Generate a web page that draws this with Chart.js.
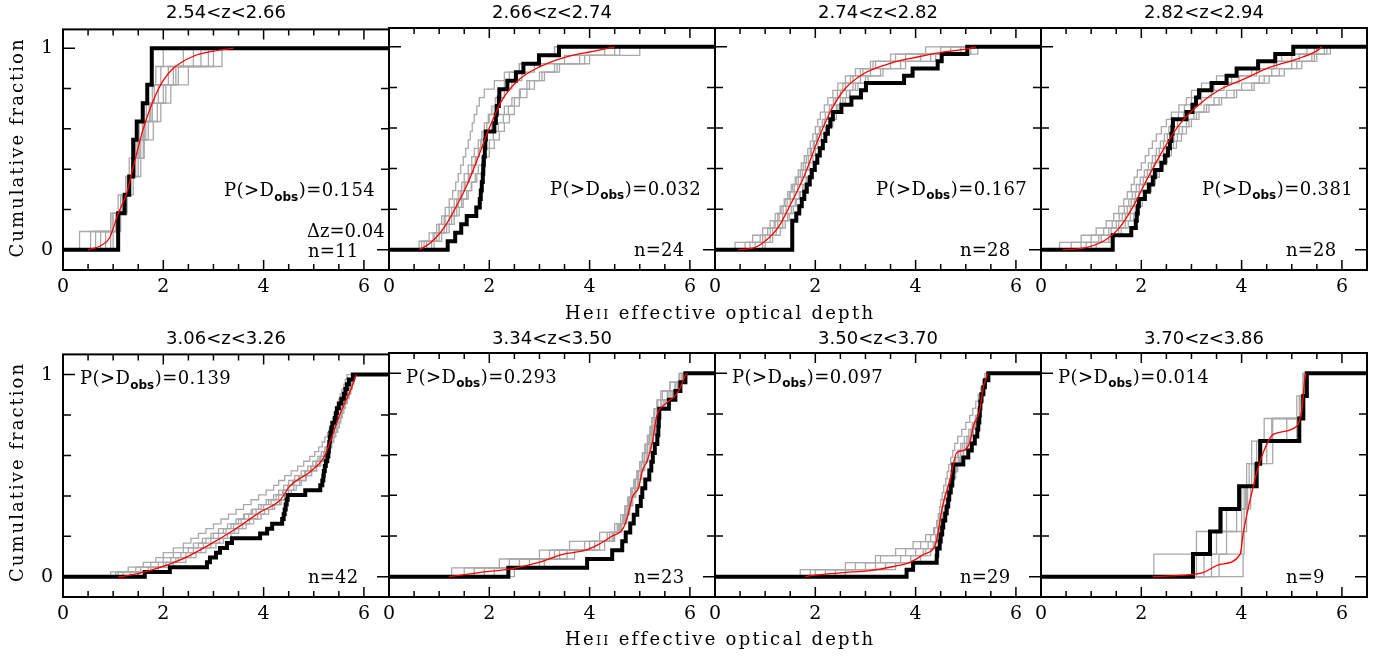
<!DOCTYPE html>
<html>
<head>
<meta charset="utf-8">
<script src="https://cdn.jsdelivr.net/npm/chart.js@4.4.1/dist/chart.umd.min.js"></script>
<style>
  html, body { margin: 0; padding: 0; background: #fff; }
  #page { position: relative; width: 1392px; height: 656px; overflow: hidden; background: #fff; }
  #page canvas { position: absolute; }
</style>
</head>
<body>
<div id="page"><canvas id="overlay" width="1392" height="656" style="left:0;top:0"></canvas></div>
<script>
// redshift bins, KS probabilities, ticks
const zTitles = ['2.54<z<2.66', '2.66<z<2.74', '2.74<z<2.82', '2.82<z<2.94',
                 '3.06<z<3.26', '3.34<z<3.50', '3.50<z<3.70', '3.70<z<3.86'];
const pValues = ['0.154', '0.032', '0.167', '0.381', '0.139', '0.293', '0.097', '0.014'];
const dzLabel = 'Δz=0.04';
const xTickValues = [0, 2, 4, 6];
const yTickValues = [0, 1];
const yMinorValues = [0.2, 0.4, 0.6, 0.8];

// observed HeII effective optical depths (black)
const obs1 = [1.10, 1.10, 1.23, 1.32, 1.40, 1.40, 1.47, 1.59, 1.68, 1.77, 1.77];
const obs2 = [1.17, 1.32, 1.44, 1.55, 1.74, 1.81, 1.83, 1.85, 1.87, 1.88, 1.89, 1.91, 1.92, 1.93,
              2.10, 2.13, 2.15, 2.19, 2.20, 2.36, 2.53, 2.68, 2.99, 3.39];
const obs3 = [1.54, 1.54, 1.54, 1.54, 1.62, 1.68, 1.73, 1.78, 1.83, 1.89, 1.93, 1.99, 2.04, 2.09,
              2.15, 2.20, 2.25, 2.30, 2.35, 2.52, 2.72, 2.91, 3.01, 3.77, 3.94, 4.44, 4.52, 5.03];
const obs4 = [1.43, 1.43, 1.80, 1.89, 1.91, 1.93, 1.95, 2.07, 2.15, 2.23, 2.27, 2.40, 2.47, 2.53,
              2.57, 2.60, 2.62, 2.63, 2.90, 3.02, 3.09, 3.15, 3.40, 3.70, 3.90, 4.33, 4.67, 5.03];
const obs5 = [1.63, 2.13, 2.87, 2.93, 3.05, 3.13, 3.27, 3.37, 3.93, 4.07, 4.17, 4.37, 4.40, 4.42,
              4.44, 4.46, 4.48, 4.83, 5.13, 5.17, 5.19, 5.20, 5.22, 5.24, 5.27, 5.29, 5.30, 5.31,
              5.32, 5.33, 5.35, 5.37, 5.42, 5.44, 5.46, 5.50, 5.55, 5.60, 5.63, 5.66, 5.70, 5.78];
const obs6 = [2.38, 3.95, 4.45, 4.65, 4.72, 4.81, 4.88, 4.95, 5.02, 5.05, 5.11, 5.19, 5.23, 5.26,
              5.30, 5.35, 5.37, 5.38, 5.39, 5.58, 5.71, 5.81, 5.91];
const obs7 = [3.82, 3.95, 4.42, 4.43, 4.48, 4.50, 4.53, 4.55, 4.59, 4.62, 4.65, 4.67, 4.70, 4.73,
              4.74, 4.75, 4.95, 5.05, 5.12, 5.18, 5.23, 5.25, 5.27, 5.28, 5.29, 5.31, 5.35, 5.38, 5.45];
const obs8 = [3.03, 3.37, 3.58, 3.95, 4.30, 4.37, 5.15, 5.23, 5.30];

// model cumulative distributions (red)
const model1x = [0.50, 0.57, 0.75, 0.93, 1.10, 1.27, 1.40, 1.60, 1.80, 2.00, 2.20, 2.60, 3.00, 3.40];
const model1y = [0, 0.005, 0.02, 0.06, 0.18, 0.28, 0.41, 0.60, 0.74, 0.84, 0.90, 0.96, 0.985, 1];
const model2x = [0.60, 0.75, 0.94, 1.10, 1.27, 1.54, 1.80, 2.00, 2.26, 2.60, 2.99, 3.52, 4.12, 4.50];
const model2y = [0, 0.02, 0.06, 0.11, 0.18, 0.31, 0.47, 0.60, 0.74, 0.84, 0.90, 0.95, 0.98, 1];
const model3x = [0.46, 0.79, 0.99, 1.26, 1.52, 1.79, 2.05, 2.32, 2.58, 2.98, 3.51, 4.04, 4.57, 5.03, 5.20];
const model3y = [0, 0.01, 0.04, 0.11, 0.23, 0.37, 0.54, 0.69, 0.79, 0.87, 0.92, 0.95, 0.975, 0.99, 1];
const model4x = [0.43, 0.90, 1.30, 1.57, 1.83, 2.10, 2.43, 2.77, 3.17, 3.57, 4.03, 4.57, 5.10, 5.50, 5.60];
const model4y = [0, 0.01, 0.05, 0.11, 0.21, 0.34, 0.49, 0.62, 0.72, 0.79, 0.84, 0.90, 0.94, 0.98, 1];
const model5x = [1.10, 1.20, 1.73, 2.40, 2.93, 3.40, 3.93, 4.33, 4.53, 4.93, 5.20, 5.33, 5.47, 5.60, 5.73, 5.83, 5.85];
const model5y = [0, 0.002, 0.03, 0.09, 0.16, 0.23, 0.32, 0.38, 0.45, 0.52, 0.59, 0.67, 0.77, 0.85, 0.92, 0.99, 1];
const model6x = [1.20, 1.80, 2.46, 2.99, 3.46, 3.92, 4.19, 4.45, 4.65, 4.75, 4.85, 4.98, 5.05, 5.15,
                 5.25, 5.34, 5.51, 5.71, 5.81, 5.91, 5.95];
const model6y = [0, 0.02, 0.04, 0.07, 0.11, 0.13, 0.16, 0.20, 0.23, 0.29, 0.39, 0.44, 0.52, 0.57,
                 0.66, 0.79, 0.85, 0.89, 0.93, 0.99, 1];
const model7x = [1.80, 1.91, 2.57, 3.10, 3.56, 3.89, 4.16, 4.36, 4.42, 4.49, 4.55, 4.69, 4.82, 4.95,
                 5.08, 5.15, 5.28, 5.35, 5.41, 5.43];
const model7y = [0, 0.005, 0.02, 0.03, 0.05, 0.07, 0.11, 0.14, 0.18, 0.28, 0.36, 0.48, 0.61, 0.62,
                 0.66, 0.74, 0.82, 0.93, 0.98, 1];
const model8x = [2.23, 2.97, 3.23, 3.57, 3.97, 4.03, 4.10, 4.20, 4.30, 4.43, 4.63, 5.10, 5.20, 5.27, 5.29];
const model8y = [0, 0.01, 0.02, 0.06, 0.11, 0.21, 0.30, 0.41, 0.51, 0.61, 0.70, 0.74, 0.82, 0.99, 1];

// mock samples drawn from the model (grey)
const sims1 = [
  [0.33, 0.95, 1.10, 1.25, 1.32, 1.45, 1.52, 1.60, 1.70, 1.95, 2.40],
  [0.65, 1.00, 1.15, 1.30, 1.42, 1.50, 1.62, 1.75, 1.90, 2.10, 3.17],
  [0.85, 1.08, 1.22, 1.35, 1.45, 1.55, 1.65, 1.78, 2.00, 2.25, 2.60],
  [0.95, 1.12, 1.25, 1.28, 1.38, 1.48, 1.58, 1.72, 1.82, 2.20, 2.90],
  [0.75, 0.98, 1.20, 1.33, 1.50, 1.62, 1.70, 1.88, 2.05, 2.30, 2.75],
  [1.00, 1.15, 1.28, 1.40, 1.55, 1.60, 1.80, 1.95, 2.15, 2.50, 3.00],
  [0.55, 1.05, 1.18, 1.30, 1.40, 1.52, 1.60, 1.66, 1.78, 1.85, 2.00]
];
const sims2 = [
  [0.60, 0.80, 0.95, 1.05, 1.12, 1.20, 1.27, 1.33, 1.38, 1.43, 1.48, 1.53, 1.58, 1.62, 1.66, 1.70, 1.75, 1.80, 1.90, 2.10, 2.30, 2.60, 3.00, 3.30],
  [0.70, 0.90, 1.00, 1.12, 1.25, 1.35, 1.42, 1.50, 1.58, 1.65, 1.72, 1.80, 1.85, 1.95, 2.05, 2.15, 2.30, 2.45, 2.60, 2.75, 3.00, 3.30, 3.90, 4.60],
  [0.85, 1.00, 1.15, 1.25, 1.35, 1.45, 1.55, 1.65, 1.75, 1.85, 1.92, 2.00, 2.10, 2.20, 2.30, 2.40, 2.50, 2.60, 2.75, 2.90, 3.10, 3.40, 4.00, 5.00],
  [0.65, 0.95, 1.10, 1.20, 1.30, 1.38, 1.45, 1.52, 1.60, 1.68, 1.74, 1.78, 1.83, 1.88, 1.95, 2.00, 2.10, 2.20, 2.30, 2.45, 2.65, 2.90, 3.50, 4.30],
  [0.90, 1.05, 1.20, 1.30, 1.40, 1.48, 1.58, 1.64, 1.72, 1.78, 1.85, 1.92, 2.00, 2.08, 2.18, 2.28, 2.38, 2.50, 2.62, 2.80, 3.05, 3.35, 3.80, 4.50],
  [0.75, 0.88, 1.00, 1.10, 1.20, 1.30, 1.38, 1.45, 1.50, 1.58, 1.65, 1.70, 1.78, 1.85, 1.90, 1.98, 2.05, 2.12, 2.20, 2.30, 2.40, 2.60, 3.00, 3.30]
];
const sims3 = [
  [0.40, 0.75, 0.95, 1.10, 1.20, 1.30, 1.38, 1.45, 1.52, 1.60, 1.66, 1.72, 1.78, 1.85, 1.90, 1.95, 2.00, 2.05, 2.10, 2.18, 2.25, 2.35, 2.45, 2.60, 2.80, 3.10, 3.60, 4.50],
  [0.80, 1.00, 1.15, 1.25, 1.35, 1.42, 1.50, 1.58, 1.65, 1.72, 1.80, 1.88, 1.95, 2.00, 2.05, 2.12, 2.20, 2.28, 2.35, 2.42, 2.50, 2.62, 2.75, 2.90, 3.10, 3.50, 4.10, 5.24],
  [0.95, 1.10, 1.22, 1.35, 1.45, 1.52, 1.60, 1.68, 1.75, 1.82, 1.90, 1.98, 2.05, 2.10, 2.15, 2.20, 2.28, 2.35, 2.42, 2.50, 2.60, 2.70, 2.85, 3.00, 3.30, 3.70, 4.30, 5.10],
  [0.60, 0.90, 1.05, 1.20, 1.28, 1.36, 1.44, 1.50, 1.58, 1.66, 1.74, 1.80, 1.86, 1.92, 1.98, 2.04, 2.10, 2.18, 2.26, 2.32, 2.40, 2.50, 2.60, 2.75, 2.95, 3.20, 3.80, 4.70],
  [1.00, 1.15, 1.30, 1.40, 1.48, 1.56, 1.62, 1.70, 1.78, 1.84, 1.90, 1.96, 2.02, 2.08, 2.14, 2.20, 2.25, 2.30, 2.38, 2.45, 2.55, 2.68, 2.80, 3.05, 3.35, 3.80, 4.40, 4.90],
  [0.70, 0.95, 1.10, 1.18, 1.25, 1.32, 1.40, 1.48, 1.55, 1.62, 1.70, 1.76, 1.82, 1.90, 1.96, 2.02, 2.08, 2.14, 2.20, 2.28, 2.36, 2.44, 2.55, 2.70, 2.90, 3.15, 3.50, 4.20]
];
const sims4 = [
  [0.37, 0.80, 1.10, 1.30, 1.45, 1.55, 1.65, 1.72, 1.80, 1.86, 1.92, 2.00, 2.08, 2.15, 2.22, 2.30, 2.40, 2.50, 2.60, 2.75, 2.90, 3.00, 3.20, 3.50, 3.90, 4.30, 4.80, 5.30],
  [0.80, 1.20, 1.40, 1.55, 1.68, 1.78, 1.86, 1.95, 2.02, 2.10, 2.18, 2.25, 2.35, 2.45, 2.55, 2.65, 2.75, 2.90, 3.05, 3.25, 3.45, 3.70, 4.00, 4.35, 4.60, 5.00, 5.40, 5.77],
  [1.00, 1.35, 1.55, 1.68, 1.78, 1.88, 1.98, 2.08, 2.16, 2.24, 2.32, 2.40, 2.48, 2.56, 2.64, 2.72, 2.82, 2.95, 3.10, 3.30, 3.55, 3.85, 4.20, 4.45, 4.75, 5.10, 5.45, 5.65],
  [0.60, 1.00, 1.25, 1.42, 1.56, 1.66, 1.75, 1.82, 1.90, 1.98, 2.06, 2.14, 2.22, 2.30, 2.38, 2.46, 2.55, 2.64, 2.74, 2.86, 3.00, 3.20, 3.45, 3.80, 4.20, 4.70, 5.15, 5.50],
  [1.10, 1.40, 1.60, 1.74, 1.85, 1.94, 2.02, 2.10, 2.20, 2.28, 2.36, 2.44, 2.52, 2.60, 2.70, 2.80, 2.90, 3.00, 3.15, 3.35, 3.60, 3.90, 4.25, 4.55, 4.85, 5.20, 5.50, 5.70],
  [0.90, 1.15, 1.35, 1.50, 1.62, 1.72, 1.80, 1.88, 1.96, 2.04, 2.12, 2.20, 2.28, 2.36, 2.44, 2.52, 2.62, 2.72, 2.84, 3.00, 3.20, 3.40, 3.65, 3.95, 4.30, 4.65, 5.00, 5.45]
];
const sims5 = [
  [0.95, 1.30, 1.60, 1.85, 2.00, 2.20, 2.40, 2.55, 2.70, 2.85, 3.00, 3.15, 3.30, 3.45, 3.60, 3.75, 3.90, 4.05, 4.20, 4.30, 4.42,
   4.55, 4.68, 4.80, 4.92, 5.02, 5.10, 5.17, 5.22, 5.27, 5.31, 5.35, 5.38, 5.41, 5.44, 5.47, 5.50, 5.53, 5.56, 5.60, 5.63, 5.66],
  [1.20, 1.55, 1.90, 2.15, 2.35, 2.50, 2.70, 2.85, 3.00, 3.20, 3.35, 3.50, 3.62, 3.75, 3.90, 4.05, 4.20, 4.30, 4.40, 4.50, 4.62,
   4.75, 4.88, 4.98, 5.08, 5.15, 5.22, 5.28, 5.32, 5.36, 5.40, 5.43, 5.46, 5.50, 5.54, 5.58, 5.62, 5.66, 5.70, 5.73, 5.76, 5.80],
  [1.50, 1.90, 2.20, 2.45, 2.65, 2.85, 3.05, 3.20, 3.35, 3.50, 3.65, 3.80, 3.95, 4.10, 4.22, 4.35, 4.45, 4.55, 4.65, 4.75, 4.85,
   4.95, 5.05, 5.12, 5.20, 5.25, 5.30, 5.34, 5.38, 5.42, 5.45, 5.48, 5.52, 5.55, 5.58, 5.62, 5.66, 5.70, 5.74, 5.77, 5.80, 5.83],
  [1.10, 1.70, 2.00, 2.25, 2.45, 2.60, 2.80, 2.95, 3.10, 3.25, 3.40, 3.55, 3.70, 3.85, 4.00, 4.15, 4.30, 4.40, 4.48, 4.58, 4.70,
   4.82, 4.94, 5.04, 5.12, 5.20, 5.26, 5.30, 5.34, 5.38, 5.42, 5.46, 5.49, 5.52, 5.55, 5.59, 5.63, 5.67, 5.71, 5.75, 5.78, 5.81],
  [1.35, 1.75, 2.05, 2.30, 2.55, 2.75, 2.95, 3.12, 3.28, 3.42, 3.58, 3.72, 3.88, 4.02, 4.18, 4.32, 4.42, 4.50, 4.60, 4.72, 4.84,
   4.96, 5.06, 5.14, 5.21, 5.27, 5.32, 5.36, 5.40, 5.44, 5.48, 5.51, 5.54, 5.57, 5.60, 5.63, 5.67, 5.70, 5.73, 5.76, 5.79, 5.82],
  [1.05, 1.45, 1.75, 2.00, 2.20, 2.40, 2.60, 2.78, 2.95, 3.10, 3.28, 3.45, 3.60, 3.78, 3.95, 4.10, 4.25, 4.38, 4.48, 4.60, 4.72,
   4.84, 4.96, 5.06, 5.14, 5.20, 5.25, 5.30, 5.34, 5.38, 5.41, 5.44, 5.47, 5.50, 5.53, 5.56, 5.60, 5.64, 5.68, 5.72, 5.75, 5.78]
];
const sims6 = [
  [1.25, 2.20, 3.00, 3.60, 4.20, 4.50, 4.62, 4.70, 4.76, 4.82, 4.88, 4.94, 5.00, 5.06, 5.12, 5.18, 5.22, 5.26, 5.30, 5.36, 5.45, 5.60, 5.80],
  [1.70, 2.60, 3.20, 4.00, 4.35, 4.55, 4.68, 4.75, 4.80, 4.86, 4.92, 4.98, 5.04, 5.10, 5.16, 5.20, 5.25, 5.30, 5.35, 5.42, 5.55, 5.70, 5.85],
  [2.10, 3.10, 3.70, 4.30, 4.50, 4.62, 4.72, 4.78, 4.84, 4.90, 4.96, 5.02, 5.08, 5.14, 5.20, 5.24, 5.28, 5.33, 5.40, 5.50, 5.65, 5.75, 5.90],
  [1.50, 2.40, 3.30, 3.90, 4.40, 4.60, 4.70, 4.76, 4.80, 4.85, 4.90, 4.95, 5.00, 5.05, 5.10, 5.15, 5.20, 5.24, 5.28, 5.34, 5.42, 5.60, 5.78],
  [2.50, 3.00, 3.55, 4.10, 4.45, 4.64, 4.74, 4.80, 4.86, 4.92, 4.98, 5.04, 5.10, 5.16, 5.22, 5.27, 5.31, 5.35, 5.40, 5.48, 5.62, 5.78, 5.88],
  [1.90, 2.80, 3.40, 4.20, 4.48, 4.58, 4.66, 4.72, 4.78, 4.84, 4.90, 4.97, 5.03, 5.09, 5.15, 5.20, 5.24, 5.29, 5.34, 5.44, 5.58, 5.72, 5.84]
];
const sims7 = [
  [1.70, 2.60, 3.30, 3.80, 4.10, 4.30, 4.38, 4.42, 4.45, 4.48, 4.50, 4.53, 4.56, 4.60, 4.63, 4.66, 4.70, 4.74, 4.78, 4.84, 4.92, 5.00, 5.08, 5.14, 5.20, 5.25, 5.30, 5.34, 5.38],
  [2.00, 3.00, 3.70, 4.00, 4.25, 4.40, 4.44, 4.47, 4.50, 4.53, 4.56, 4.60, 4.64, 4.68, 4.72, 4.76, 4.80, 4.86, 4.94, 5.02, 5.10, 5.16, 5.22, 5.26, 5.30, 5.33, 5.36, 5.38, 5.42],
  [2.40, 3.40, 3.90, 4.15, 4.35, 4.42, 4.46, 4.50, 4.54, 4.58, 4.62, 4.66, 4.70, 4.74, 4.78, 4.82, 4.88, 4.95, 5.02, 5.08, 5.14, 5.20, 5.24, 5.28, 5.31, 5.34, 5.36, 5.39, 5.43],
  [2.60, 3.60, 4.10, 4.30, 4.40, 4.45, 4.48, 4.51, 4.55, 4.58, 4.61, 4.65, 4.69, 4.72, 4.75, 4.80, 4.85, 4.90, 4.98, 5.05, 5.12, 5.18, 5.23, 5.27, 5.30, 5.33, 5.36, 5.40, 5.44],
  [1.90, 2.80, 3.20, 3.60, 3.95, 4.20, 4.36, 4.43, 4.48, 4.52, 4.55, 4.59, 4.63, 4.67, 4.71, 4.75, 4.79, 4.84, 4.90, 4.97, 5.06, 5.13, 5.19, 5.24, 5.28, 5.32, 5.35, 5.38, 5.41],
  [2.20, 3.20, 3.90, 4.20, 4.38, 4.44, 4.48, 4.52, 4.56, 4.60, 4.64, 4.68, 4.72, 4.76, 4.80, 4.84, 4.90, 4.96, 5.03, 5.10, 5.15, 5.20, 5.25, 5.29, 5.32, 5.35, 5.38, 5.41, 5.44]
];
const sims8 = [
  [2.25, 3.10, 3.55, 4.00, 4.10, 4.20, 4.45, 5.10, 5.22],
  [3.10, 3.35, 3.70, 4.05, 4.15, 4.30, 4.60, 5.15, 5.25],
  [3.25, 3.50, 3.90, 4.10, 4.20, 4.35, 5.10, 5.20, 5.28],
  [3.55, 4.00, 4.05, 4.12, 4.25, 4.62, 5.15, 5.20, 5.26],
  [4.03, 4.05, 4.10, 4.18, 4.28, 4.50, 4.90, 5.18, 5.24],
  [3.40, 3.70, 4.00, 4.08, 4.30, 4.40, 4.62, 5.20, 5.27]
];

const X_MAX = 6.5;
const obsList = [obs1, obs2, obs3, obs4, obs5, obs6, obs7, obs8];
const simList = [sims1, sims2, sims3, sims4, sims5, sims6, sims7, sims8];
const modelX = [model1x, model2x, model3x, model4x, model5x, model6x, model7x, model8x];
const modelY = [model1y, model2y, model3y, model4y, model5y, model6y, model7y, model8y];

// page layout
const panelLefts = [63, 389, 715, 1041];
const panelW = 326;
const rows = [
  { top: 28, h: 242, ymax: 1.093 },
  { top: 353, h: 244, ymax: 1.1 }
];
const SERIF = '"DejaVu Serif", serif';
const SANS = '"DejaVu Sans", sans-serif';

function cdfSteps(taus) {
  const s = taus.slice().sort((a, b) => a - b);
  const pts = [{ x: 0, y: 0 }];
  s.forEach((t, i) => pts.push({ x: t, y: (i + 1) / s.length }));
  pts.push({ x: X_MAX, y: 1 });
  return pts;
}

function drawSpaced(ctx, text, x, y, gap) {
  for (const ch of text) {
    ctx.fillText(ch, x, y);
    x += ctx.measureText(ch).width + gap;
  }
  return x;
}

// spread segments of text over a given width
function fitSpaced(ctx, segs, cx, y, target) {
  let natural = 0, count = 0;
  segs.forEach(s => {
    ctx.font = s.font;
    for (const ch of s.t) { natural += ctx.measureText(ch).width; count++; }
  });
  const gap = (target - natural) / (count - 1);
  let x = cx - target / 2;
  segs.forEach(s => {
    ctx.font = s.font;
    for (const ch of s.t) {
      ctx.fillText(ch, x, y);
      x += ctx.measureText(ch).width + gap;
    }
  });
}

// frame, inward ticks and in-panel labels
const framePlugin = {
  id: 'frame',
  afterDatasetsDraw(chart, args, opts) {
    const { ctx, chartArea: a } = chart;
    const xs = chart.scales.x, ys = chart.scales.y;
    ctx.save();
    ctx.strokeStyle = '#000';
    ctx.lineWidth = 2;
    ctx.strokeRect(a.left, a.top, a.right - a.left, a.bottom - a.top);
    ctx.lineWidth = 1.5;
    ctx.beginPath();
    for (let i = 1; i * 0.5 < X_MAX; i++) {
      const v = i * 0.5;
      const px = xs.getPixelForValue(v);
      const len = xTickValues.includes(v) ? 10 : 6;
      ctx.moveTo(px, a.bottom); ctx.lineTo(px, a.bottom - len);
      ctx.moveTo(px, a.top); ctx.lineTo(px, a.top + len);
    }
    yTickValues.concat(yMinorValues).forEach(v => {
      const py = ys.getPixelForValue(v);
      const len = yTickValues.includes(v) ? 12 : 8;
      ctx.moveTo(a.left, py); ctx.lineTo(a.left + len, py);
      ctx.moveTo(a.right, py); ctx.lineTo(a.right - len, py);
    });
    ctx.stroke();

    ctx.fillStyle = '#000';
    ctx.textBaseline = 'middle';
    ctx.textAlign = 'left';
    // P(>D_obs)
    const px = a.left + (opts.row === 0 ? 161 : 17);
    const py = a.top + (opts.row === 0 ? 162 : 25);
    ctx.font = '18px ' + SERIF;
    let cx = drawSpaced(ctx, 'P(>D', px, py, 0.4);
    ctx.font = 'bold 12px ' + SANS;
    cx = drawSpaced(ctx, 'obs', cx, py + 6, 0);
    ctx.font = '18px ' + SERIF;
    drawSpaced(ctx, ')=' + opts.p, cx + 0.5, py, 0.4);
    // n and dz
    const y0 = ys.getPixelForValue(0);
    drawSpaced(ctx, 'n=' + opts.n, a.left + 245, y0 + 2, 0.2);
    if (opts.dz) drawSpaced(ctx, opts.dz, a.left + 244, y0 - 18, 0);
    ctx.restore();
  }
};

const page = document.getElementById('page');

zTitles.forEach((title, k) => {
  const row = k < 4 ? 0 : 1;
  const r = rows[row];
  const left = panelLefts[k % 4];
  const cv = document.createElement('canvas');
  cv.width = panelW + 100;
  cv.height = r.h + 20 + 40;
  cv.style.left = (left - 50) + 'px';
  cv.style.top = (r.top - 20) + 'px';
  page.appendChild(cv);

  const datasets = [
    {
      data: modelX[k].map((x, i) => ({ x: x, y: modelY[k][i] })),
      borderColor: '#ff0000', borderWidth: 1.3,
      cubicInterpolationMode: 'monotone', pointRadius: 0
    },
    {
      data: cdfSteps(obsList[k]),
      borderColor: '#000000', borderWidth: 4, stepped: true, pointRadius: 0
    }
  ];
  simList[k].forEach(s => datasets.push({
    data: cdfSteps(s),
    borderColor: '#a9a9a9', borderWidth: 1.3, stepped: true, pointRadius: 0
  }));

  new Chart(cv, {
    type: 'line',
    data: { datasets: datasets },
    options: {
      responsive: false,
      animation: false,
      devicePixelRatio: 1,
      layout: { padding: { left: 0, top: 20, right: 50, bottom: 0 } },
      plugins: {
        legend: { display: false },
        tooltip: { enabled: false },
        frame: { row: row, p: pValues[k], n: obsList[k].length, dz: k === 0 ? dzLabel : '' }
      },
      scales: {
        x: {
          type: 'linear', min: 0, max: X_MAX,
          grid: { display: false, drawTicks: false },
          border: { display: false },
          ticks: { color: '#000', font: { family: SERIF, size: 19 }, padding: 6, maxRotation: 0 },
          afterBuildTicks: s => { s.ticks = xTickValues.map(v => ({ value: v })); },
          afterFit: s => { s.height = 40; }
        },
        y: {
          type: 'linear', min: -0.1, max: r.ymax,
          grid: { display: false, drawTicks: false },
          border: { display: false },
          ticks: { display: k % 4 === 0, color: '#000', font: { family: SERIF, size: 19 }, padding: 10 },
          afterBuildTicks: s => { s.ticks = yTickValues.map(v => ({ value: v })); },
          afterFit: s => { s.width = 50; }
        }
      }
    },
    plugins: [framePlugin]
  });
});

// titles and axis names
const ov = document.getElementById('overlay');
const octx = ov.getContext('2d');
octx.fillStyle = '#000';
octx.textAlign = 'center';
octx.textBaseline = 'middle';
octx.font = '18px ' + SANS;
zTitles.forEach((t, k) => {
  const row = k < 4 ? 0 : 1;
  octx.fillText(t, panelLefts[k % 4] + panelW / 2, row === 0 ? 13.5 : 339);
});

octx.textAlign = 'left';
octx.textBaseline = 'alphabetic';
const xTitle = [
  { t: 'He', font: '18px ' + SERIF },
  { t: 'II', font: '13px ' + SERIF },
  { t: ' effective optical depth', font: '18px ' + SERIF }
];
fitSpaced(octx, xTitle, 719, 318.5, 308);
fitSpaced(octx, xTitle, 719, 644.5, 308);

[148.5, 473].forEach(cy => {
  octx.save();
  octx.translate(23, cy);
  octx.rotate(-Math.PI / 2);
  fitSpaced(octx, [{ t: 'Cumulative fraction', font: '18px ' + SERIF }], 0, 0, 218);
  octx.restore();
});
</script>
</body>
</html>
